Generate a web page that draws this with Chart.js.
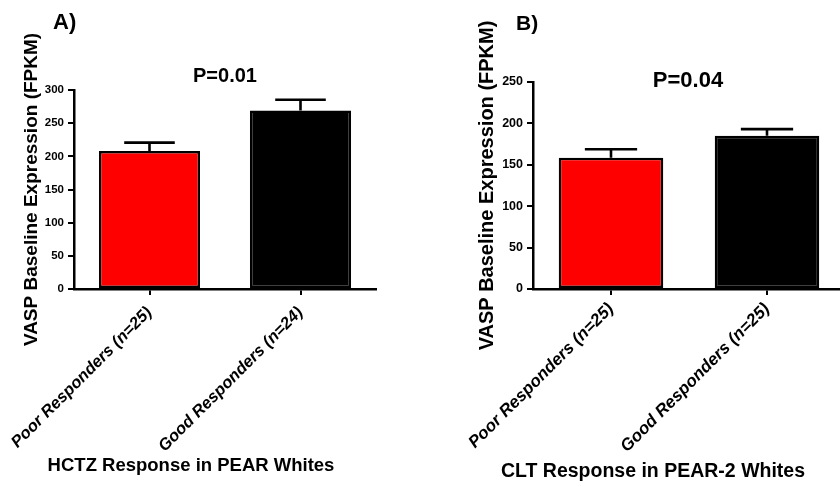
<!DOCTYPE html>
<html>
<head>
<meta charset="utf-8">
<script src="https://cdn.jsdelivr.net/npm/chart.js@4/dist/chart.umd.min.js"></script>
<style>
  body { margin: 0; background: #fff; overflow: hidden; width: 840px; height: 487px; position: relative; }
  .panel { position: absolute; top: 0; height: 487px; }
</style>
</head>
<body>
<div class="panel" style="left:0; width:420px;"><canvas id="chartA" width="420" height="487"></canvas></div>
<div class="panel" style="left:420px; width:440px;"><canvas id="chartB" width="440" height="487"></canvas></div>
<script>
// panel A - HCTZ
const categoriesA = ['Poor Responders (n=25)', 'Good Responders (n=24)'];
const meansA = [208, 269];
const errorsA = [12.6, 16.2];
const yTicksA = { max: 300, step: 50 };

// panel B - CLT
const categoriesB = ['Poor Responders (n=25)', 'Good Responders (n=25)'];
const meansB = [158.5, 185];
const errorsB = [10.2, 8.1];
const yTicksB = { max: 250, step: 50 };

const barColors = ['#ff0000', '#000000'];
const fontFamily = '"Liberation Sans", Arial, sans-serif';

// draws the upper half of the SEM bars over each bar
const errorBars = {
    id: 'errorBars',
    afterDatasetsDraw(chart) {
        const ctx = chart.ctx;
        const yScale = chart.scales.y;
        const errs = chart.options.plugins.errorBars.errors;
        const meta = chart.getDatasetMeta(0);
        ctx.save();
        ctx.strokeStyle = '#000';
        ctx.lineWidth = 2.6;
        meta.data.forEach((bar, i) => {
            const value = chart.data.datasets[0].data[i];
            const top = yScale.getPixelForValue(value + errs[i]);
            const half = bar.width / 4;
            ctx.beginPath();
            ctx.moveTo(bar.x, bar.y);
            ctx.lineTo(bar.x, top);
            ctx.moveTo(bar.x - half, top);
            ctx.lineTo(bar.x + half, top);
            ctx.stroke();
        });
        ctx.restore();
    }
};

// panel letter, p value and the x axis caption
const panelText = {
    id: 'panelText',
    afterDraw(chart) {
        const ctx = chart.ctx;
        const items = chart.options.plugins.panelText.items;
        ctx.save();
        ctx.fillStyle = '#000';
        ctx.textBaseline = 'alphabetic';
        items.forEach((item) => {
            ctx.font = 'bold ' + item.size + 'px ' + fontFamily;
            ctx.textAlign = item.align;
            ctx.fillText(item.text, item.x, item.y);
        });
        ctx.restore();
    }
};

const makePanel = (id, setup) => {
    let canvas = document.getElementById(id);
    return new Chart(canvas, {
        type: 'bar',
        data: {
            labels: setup.categories,
            datasets: [{
                data: setup.means,
                backgroundColor: barColors,
                borderColor: '#000',
                borderWidth: 2.5,
                borderSkipped: false,
                categoryPercentage: 1,
                barPercentage: 0.67,
            }],
        },
        options: {
            responsive: false,
            animation: false,
            events: [],
            layout: { padding: setup.padding },
            plugins: {
                legend: { display: false },
                tooltip: { enabled: false },
                errorBars: { errors: setup.errors },
                panelText: { items: setup.texts },
            },
            scales: {
                x: {
                    offset: true,
                    afterFit: (scale) => {
                        scale.height = setup.xHeight;
                        // rotated labels may hang past the axis, don't let that shrink the plot
                        scale.paddingLeft = 0;
                        scale.paddingRight = 0;
                    },
                    grid: {
                        display: true,
                        offset: false,
                        drawOnChartArea: false,
                        drawTicks: true,
                        tickLength: 6,
                        color: '#000',
                        lineWidth: 2,
                    },
                    border: { display: true, color: '#000', width: 2.5 },
                    ticks: {
                        color: '#000',
                        minRotation: 45,
                        maxRotation: 45,
                        padding: setup.xPad,
                        font: { family: fontFamily, size: setup.xFont, style: 'italic', weight: 'bold' },
                    },
                },
                y: {
                    min: 0,
                    max: setup.yTicks.max,
                    afterFit: (scale) => { scale.width = setup.yWidth; },
                    grid: {
                        display: true,
                        drawOnChartArea: false,
                        drawTicks: true,
                        tickLength: 6,
                        color: '#000',
                        lineWidth: 2,
                    },
                    border: { display: true, color: '#000', width: 2.5 },
                    ticks: {
                        stepSize: setup.yTicks.step,
                        color: '#000',
                        padding: 4,
                        font: { family: fontFamily, size: setup.tickFont, weight: 'bold' },
                    },
                    title: {
                        display: true,
                        text: 'VASP Baseline Expression (FPKM)',
                        color: '#000',
                        padding: { top: 4, bottom: 4 },
                        font: { family: fontFamily, size: setup.titleFont, weight: 'bold' },
                    },
                },
            },
        },
        plugins: [errorBars, panelText],
    });
};

makePanel('chartA', {
    categories: categoriesA,
    means: meansA,
    errors: errorsA,
    yTicks: yTicksA,
    padding: { left: 16, top: 90, right: 44, bottom: 0 },
    yWidth: 58,
    xHeight: 198,
    xFont: 16.5,
    xPad: 8,
    tickFont: 11.5,
    titleFont: 19,
    texts: [
        { text: 'A)', x: 53, y: 29, size: 22, align: 'left' },
        { text: 'P=0.01', x: 225, y: 82, size: 20, align: 'center' },
        { text: 'HCTZ Response in PEAR Whites', x: 191, y: 471, size: 18.5, align: 'center' },
    ],
});

makePanel('chartB', {
    categories: categoriesB,
    means: meansB,
    errors: errorsB,
    yTicks: yTicksB,
    padding: { left: 51, top: 82, right: 15, bottom: 0 },
    yWidth: 62,
    xHeight: 198,
    xFont: 17,
    xPad: 4,
    tickFont: 12.5,
    titleFont: 20,
    texts: [
        { text: 'B)', x: 96, y: 30, size: 21, align: 'left' },
        { text: 'P=0.04', x: 268, y: 87, size: 22, align: 'center' },
        { text: 'CLT Response in PEAR-2 Whites', x: 233, y: 477, size: 19.5, align: 'center' },
    ],
});
</script>
</body>
</html>
